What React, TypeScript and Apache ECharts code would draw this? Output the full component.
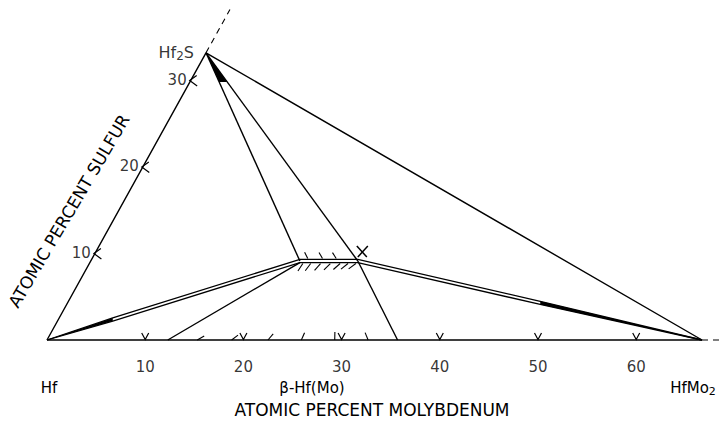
import React, { useEffect, useRef } from "react";
import * as echarts from "echarts";

// ---- data (compositions as [Mo at.%, S at.%]) ----
const HF = [0, 0];
const HF2S = [0, 33.2];
const HFMO2 = [66.7, 0];
const BETA_L = [21.3, 9.13];
const BETA_R = [27.2, 9.13];
const TIE_BASE_L = [12.3, 0];
const TIE_BASE_R = [35.7, 0];
const S_AXIS_END = [0, 38.2];
const MO_AXIS_END = [68.5, 0];
const BETA_CENTER = [25.0, 9.13];
const BASE_TARGET = [21.0, 0];

const moTicks = [10, 20, 30, 40, 50, 60];
const sTicks = [10, 20, 30];
const baseHatchMo = [15.3, 18.8, 22.5, 25.9, 29.3, 32.7];
const betaLowerHatchMo = [21.6, 22.4, 23.4, 24.4, 25.4, 26.2, 27.0];
const betaUpperHatchMo = [22.1, 23.6, 25.0];

// ---- layout ----
const K = 0.4877; // skew of the sulfur axis
const PX_X = 9.82;
const PX_Y = 8.65;
const X_MAX = 68.5;
const Y_MAX = 38.2;
const OX = 47;
const OY = 340;
const FONT = "DejaVu Sans";
const HALF_GAP = 0.18; // half spacing of the double boundary, in S units

const toXY = (c: number[]) => [c[0] + K * c[1], c[1]];
const lerp = (a: number[], b: number[], t: number) => [
  a[0] + (b[0] - a[0]) * t,
  a[1] + (b[1] - a[1]) * t,
];
const shift = (c: number[], ds: number) => [c[0] - K * ds, c[1] + ds];

function lineSeries(points: number[][], style: any = {}, z = 3) {
  return {
    type: "line",
    data: points.map(toXY),
    symbol: "none",
    silent: true,
    clip: false,
    z,
    lineStyle: { color: "#000", width: 1.4, ...style },
  };
}

function marks(data: number[][], draw: (p: number[], api: any) => any, z = 5) {
  return {
    type: "custom",
    coordinateSystem: "cartesian2d",
    data: data.map(toXY),
    silent: true,
    clip: false,
    z,
    renderItem: (_params: any, api: any) => {
      const p = api.coord([api.value(0), api.value(1)]);
      return draw(p, api);
    },
  };
}

const stroke = { stroke: "#000", lineWidth: 1.2, fill: null };

function stub(p: number[], api: any, target: number[], len: number, dy = 0) {
  const t = api.coord(toXY(target));
  const s = [p[0], p[1] + dy];
  const dx = t[0] - s[0];
  const dyy = t[1] - s[1];
  const n = Math.hypot(dx, dyy) || 1;
  return {
    type: "line",
    shape: { x1: s[0], y1: s[1], x2: s[0] + (dx / n) * len, y2: s[1] + (dyy / n) * len },
    style: { stroke: "#000", lineWidth: 1.1 },
  };
}

const textStyle = (text: string, size: number, extra: any = {}) => ({
  text,
  font: `${size}px ${FONT}`,
  fill: "#000",
  align: "center",
  verticalAlign: "middle",
  textAlign: "center",
  textVerticalAlign: "middle",
  ...extra,
});

export default function App() {
  const ref = useRef<HTMLDivElement>(null);
  useEffect(() => {
    document.body.style.margin = "0";
    const chart = echarts.init(ref.current!, null, { renderer: "svg" });
    const p1 = lerp(HF, BETA_L, 0.26);
    const p2 = lerp(BETA_R, HFMO2, 0.53);
    const upper = [HF, shift(p1, HALF_GAP), shift(BETA_L, HALF_GAP), shift(BETA_R, HALF_GAP), shift(p2, HALF_GAP), HFMO2];
    const lower = [HF, shift(p1, -HALF_GAP), shift(BETA_L, -HALF_GAP), shift(BETA_R, -HALF_GAP), shift(p2, -HALF_GAP), HFMO2];
    const wedgeL = lerp(HF2S, BETA_L, 0.14);
    const wedgeR = lerp(HF2S, BETA_R, 0.14);

    const option: any = {
      animation: false,
      backgroundColor: "#fff",
      grid: {
        left: OX,
        top: OY - Y_MAX * PX_Y,
        width: X_MAX * PX_X,
        height: Y_MAX * PX_Y,
      },
      xAxis: { type: "value", min: 0, max: X_MAX, show: false },
      yAxis: { type: "value", min: 0, max: Y_MAX, show: false },
      series: [
        // triangle edges
        lineSeries([HF, HF2S, HFMO2, HF], { width: 1.4 }),
        lineSeries([HF2S, S_AXIS_END], { type: [6, 5], width: 1.1 }),
        lineSeries([HFMO2, MO_AXIS_END], { type: [6, 5], width: 1.1 }),
        // tie lines
        lineSeries([HF2S, BETA_L]),
        lineSeries([HF2S, BETA_R]),
        lineSeries([BETA_R, TIE_BASE_R]),
        lineSeries([TIE_BASE_L, shift(BETA_L, -HALF_GAP)]),
        // beta phase double boundary
        lineSeries(upper, { width: 1.3, join: "miter" }, 4),
        lineSeries(lower, { width: 1.3, join: "miter" }, 4),
        // solid tapered ends of the boundary
        marks([HF], (p, api) => ({
          type: "polygon",
          shape: { points: [p, api.coord(toXY(shift(p1, HALF_GAP))), api.coord(toXY(shift(p1, -HALF_GAP)))] },
          style: { fill: "#000" },
        }), 4),
        marks([HFMO2], (p, api) => ({
          type: "polygon",
          shape: { points: [p, api.coord(toXY(shift(p2, HALF_GAP))), api.coord(toXY(shift(p2, -HALF_GAP)))] },
          style: { fill: "#000" },
        }), 4),
        // base ticks "V"
        marks(moTicks.map((m) => [m, 0]), (p) => ({
          type: "polyline",
          shape: { points: [[p[0] - 3.5, p[1] - 7], [p[0], p[1] - 0.5], [p[0] + 3.5, p[1] - 7]] },
          style: stroke,
        })),
        // sulfur ticks "<"
        marks(sTicks.map((s) => [0, s]), (p) => ({
          type: "polyline",
          shape: { points: [[p[0] + 6, p[1] - 5], [p[0] - 1, p[1]], [p[0] + 6.5, p[1] + 5.5]] },
          style: stroke,
        })),
        // hatches
        marks(baseHatchMo.map((m) => [m, 0]), (p, api) => stub(p, api, BETA_CENTER, 8)),
        marks(betaLowerHatchMo.map((m) => [m, BETA_L[1]]), (p, api) => stub(p, api, BASE_TARGET, 9, 2.5)),
        marks(betaUpperHatchMo.map((m) => [m, BETA_L[1]]), (p, api) => stub(p, api, HF2S, 7, -2.5)),
        // Hf2S wedge
        marks([HF2S], (p, api) => ({
          type: "polygon",
          shape: { points: [p, api.coord(toXY(wedgeL)), api.coord(toXY(wedgeR))] },
          style: { fill: "#000" },
        })),
        // cross mark near beta right corner
        marks([BETA_R], (p) => ({
          type: "group",
          children: [
            { type: "line", shape: { x1: p[0] - 1, y1: p[1] - 15, x2: p[0] + 9, y2: p[1] - 4 }, style: { stroke: "#000", lineWidth: 1.5 } },
            { type: "line", shape: { x1: p[0] + 10, y1: p[1] - 15, x2: p[0], y2: p[1] - 4 }, style: { stroke: "#000", lineWidth: 1.5 } },
          ],
        })),
        // tick labels
        {
          type: "scatter",
          symbolSize: 0,
          silent: true,
          data: moTicks.map((m) => ({ value: toXY([m, 0]), name: String(m) })),
          label: { show: true, position: "inside", offset: [0, 27], formatter: "{b}", color: "#000", fontSize: 15, fontFamily: FONT },
        },
        {
          type: "scatter",
          symbolSize: 0,
          silent: true,
          data: sTicks.map((s) => ({ value: toXY([0, s]), name: String(s) })),
          label: { show: true, position: "left", distance: 4, offset: [0, -1], formatter: "{b}", color: "#000", fontSize: 15, fontFamily: FONT },
        },
        {
          type: "scatter",
          symbolSize: 0,
          silent: true,
          data: [{ value: toXY(HF2S), name: "Hf2S" }],
          label: {
            show: true,
            position: "left",
            distance: 12,
            formatter: "Hf{s|2}S",
            color: "#000",
            fontSize: 16,
            fontFamily: FONT,
            rich: { s: { fontSize: 12, fontFamily: FONT, color: "#000", padding: [6, 0, 0, 0] } },
          },
        },
      ],
      graphic: [
        { type: "text", x: 49, y: 388, style: textStyle("Hf", 15) },
        { type: "text", x: 312, y: 388, style: textStyle("β-Hf(Mo)", 15) },
        {
          type: "text",
          x: 693,
          y: 388,
          style: textStyle("HfMo{s|2}", 15, {
            rich: { s: { fontSize: 11, fontFamily: FONT, fill: "#000", padding: [6, 0, 0, 0] } },
          }),
        },
        { type: "text", x: 372, y: 410, style: textStyle("ATOMIC PERCENT MOLYBDENUM", 17) },
        {
          type: "text",
          x: 69,
          y: 211,
          rotation: (59.4 * Math.PI) / 180,
          style: textStyle("ATOMIC PERCENT SULFUR", 17),
        },
      ],
    };
    chart.setOption(option);
    return () => chart.dispose();
  }, []);
  return <div ref={ref} style={{ width: 722, height: 422 }} />;
}
